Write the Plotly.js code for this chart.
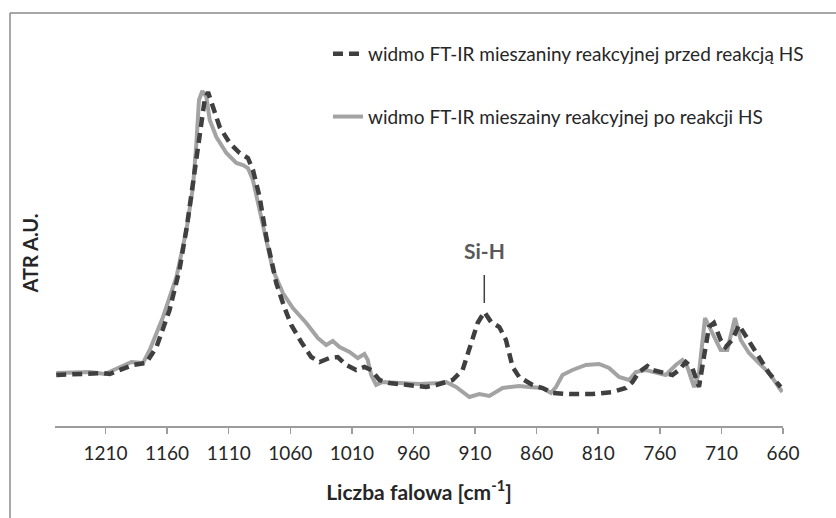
<!DOCTYPE html>
<html>
<head>
<meta charset="utf-8">
<script src="https://cdn.plot.ly/plotly-3.0.1.min.js"></script>
<style>html,body{margin:0;padding:0;background:#fff;}#chart{width:836px;height:518px;}</style>
</head>
<body>
<div id="chart"></div>
<script>
// Wavenumber [cm-1] and absorbance (A.U.)
const wnBefore = [1250,1212,1206.5,1198,1188,1177,1168.6,1158,1150,1144,1139,1133.5,1129.5,1126.8,1122.8,1117.3,1109.2,1101.1,1094.4,1090.3,1084.9,1079.5,1074.1,1071.4,1064.6,1059.2,1051.1,1043,1036.2,1028.1,1021.4,1014.6,1006.5,999.8,994.3,990.3,987.6,979.5,966,949.7,941.6,928.2,920.1,914.6,907.9,902.5,897,890.3,884.9,879.5,874.2,863.3,855.2,847.1,833.6,814.7,798.4,787.6,782.2,776.8,770.1,766.1,757.9,749.8,744.4,739,733.6,728.2,724.2,720.1,716.1,710.6,706.6,701.2,695.8,691.7,687.6,679.5,671.4,661.9];
const absBefore = [0.51,0.53,0.52,0.56,0.61,0.63,0.79,1.16,1.56,1.99,2.43,2.93,3.26,3.34,3.19,2.99,2.83,2.73,2.68,2.56,2.29,1.89,1.59,1.43,1.18,1.01,0.84,0.69,0.64,0.68,0.69,0.61,0.56,0.59,0.56,0.49,0.46,0.43,0.41,0.39,0.41,0.46,0.56,0.76,1.03,1.14,1.04,0.99,0.86,0.59,0.49,0.41,0.38,0.33,0.32,0.32,0.34,0.38,0.44,0.54,0.60,0.56,0.53,0.51,0.56,0.64,0.58,0.39,0.69,0.99,1.03,0.86,0.79,0.86,1.01,0.93,0.83,0.69,0.53,0.39];

const wnAfter = [1250,1222.7,1210.6,1198.4,1188.9,1179.5,1174.1,1163.3,1152.4,1144.3,1139,1136.2,1134.1,1131.4,1128.1,1125.4,1120,1111.9,1103.8,1098.4,1094.4,1090.3,1084.9,1079.5,1074.1,1066,1057.9,1047,1037.6,1030.8,1025.5,1020,1011.9,1005.2,999.8,997.1,994.3,990.3,984.9,971.4,955.2,939,933.5,925.4,914.6,906.5,898.4,887.6,874.2,866,855.2,848.4,844.3,839,830.9,820,809.3,801.2,793.1,785,779.5,771.4,763.3,755.2,747,741.7,737.6,732.2,728.2,723.3,717.4,710.6,705.2,699,694.3,687.6,679.5,671.4,660.6];
const absAfter = [0.53,0.54,0.52,0.59,0.64,0.63,0.76,1.09,1.49,1.96,2.39,2.83,3.26,3.35,3.29,3.06,2.89,2.73,2.63,2.61,2.58,2.46,2.16,1.83,1.56,1.33,1.18,1.03,0.88,0.81,0.85,0.79,0.74,0.68,0.72,0.66,0.51,0.41,0.44,0.43,0.42,0.43,0.44,0.39,0.29,0.32,0.30,0.38,0.40,0.39,0.38,0.33,0.39,0.51,0.56,0.61,0.62,0.58,0.49,0.46,0.54,0.56,0.53,0.51,0.61,0.66,0.59,0.39,0.53,1.08,0.93,0.76,0.76,1.08,0.86,0.73,0.63,0.53,0.34];

const tickVals = [1210,1160,1110,1060,1010,960,910,860,810,760,710,660];
const tickText = ["1210","1160","1110","1060","1010","960","910","860","810","760","710","660"];
const seriesNames = ["widmo FT-IR mieszaniny reakcyjnej przed reakcją HS","widmo FT-IR mieszainy reakcyjnej po reakcji HS"];
const siHPeak = {wn: 902.5, abs: 1.23, label: "Si-H"};

const W = 836, H = 518;
const M = {l: 55, r: 53, t: 80, b: 92};
const pw = W - M.l - M.r, ph = H - M.t - M.b;
const px = v => (v - M.l) / pw;
const py = v => (H - M.b - v) / ph;

const FONT = "Lato, 'Open Sans', sans-serif";

const traces = [
  {x: wnAfter, y: absAfter, type: 'scatter', mode: 'lines', name: seriesNames[1],
   line: {color: '#a3a3a3', width: 4}, legendrank: 2, legendgroup: 'b'},
  {x: wnBefore, y: absBefore, type: 'scatter', mode: 'lines', name: seriesNames[0],
   line: {color: '#3f3f3f', width: 4.5, dash: '10px,6px'}, legendrank: 1, legendgroup: 'a'}
];

const layout = {
  width: W, height: H,
  margin: M,
  paper_bgcolor: '#ffffff', plot_bgcolor: '#ffffff',
  font: {family: FONT, size: 19, color: '#262626'},
  showlegend: true,
  legend: {x: px(328), y: py(35), xanchor: 'left', yanchor: 'top',
           font: {family: FONT, size: 19, color: '#262626'},
           tracegroupgap: 35, bgcolor: 'rgba(0,0,0,0)', traceorder: 'grouped'},
  xaxis: {range: [1251, 660], tickvals: tickVals, ticktext: tickText,
          showgrid: false, zeroline: false, showline: true, linecolor: '#9c9c9c', linewidth: 1.5,
          ticks: 'outside', ticklen: 6, tickcolor: '#9c9c9c', tickwidth: 1.5,
          ticklabelstandoff: 4,
          tickfont: {family: FONT, size: 19, color: '#262626'},
          title: {text: '<b>Liczba falowa [cm<sup>-1</sup>]</b>', font: {family: FONT, size: 21, color: '#262626'}, standoff: 22}},
  yaxis: {range: [0, 3.46], showgrid: false, zeroline: false, showline: false,
          showticklabels: false, ticks: '',
          title: {text: '<b>ATR A.U.</b>', font: {family: FONT, size: 20, color: '#262626'}, standoff: 10}},
  annotations: [
    {x: siHPeak.wn, y: siHPeak.abs, xref: 'x', yref: 'y', text: '<b>' + siHPeak.label + '</b>',
     showarrow: true, arrowhead: 0, arrowwidth: 1.5, arrowcolor: '#404040',
     ax: 0, ay: -53, standoff: 0, startstandoff: 11,
     font: {family: FONT, size: 21, color: '#595959'}}
  ],
  shapes: [
    {type: 'line', xref: 'paper', yref: 'paper', x0: px(10), x1: px(836), y0: py(13), y1: py(13),
     line: {color: '#8a8a8a', width: 1.5}},
    {type: 'line', xref: 'paper', yref: 'paper', x0: px(10), x1: px(10), y0: py(13), y1: py(518),
     line: {color: '#8a8a8a', width: 1.5}}
  ]
};

Plotly.newPlot('chart', traces, layout, {displayModeBar: false, staticPlot: true});
</script>
</body>
</html>
